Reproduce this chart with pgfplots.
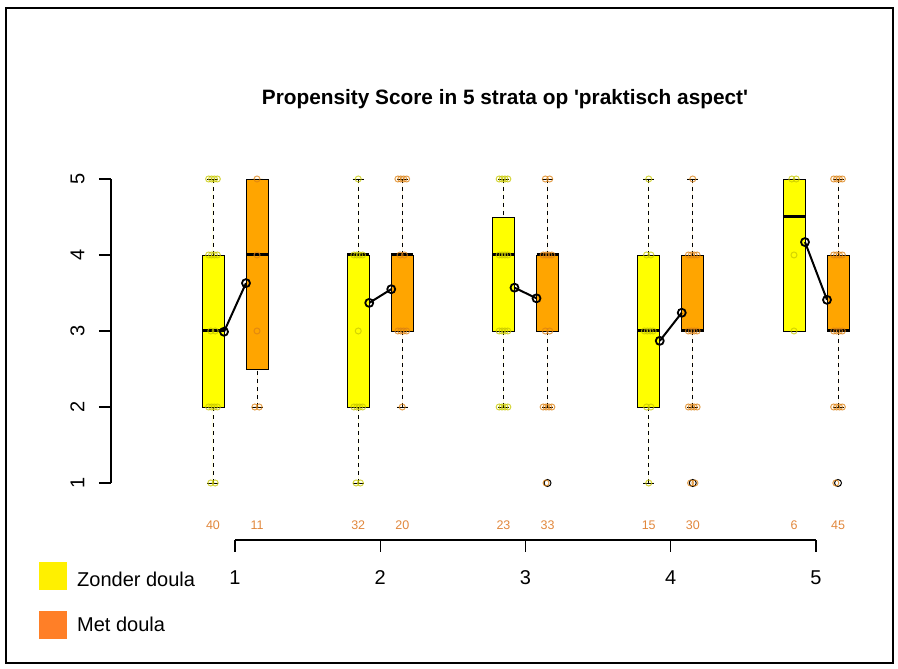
\documentclass[border=0pt]{standalone}
\usepackage{fontspec}
\setmainfont{Liberation Sans}
\usepackage{pgfplots}
\pgfplotsset{compat=1.18}
\usepgfplotslibrary{statistics}
\definecolor{boxyellow}{RGB}{255,255,0}
\definecolor{boxorange}{RGB}{255,165,0}
\definecolor{legyellow}{RGB}{255,240,0}
\definecolor{legorange}{RGB}{255,127,39}
\definecolor{ptyellow}{RGB}{200,200,0}
\definecolor{ptorange}{RGB}{220,130,20}
\definecolor{cnt}{RGB}{225,135,60}
\begin{document}
\begin{tikzpicture}[x=1pt,y=1pt]
\path[use as bounding box] (0,0) rectangle (898,669);
\draw[line width=2pt] (6,661) rectangle (893,6);
\node[font=\bfseries\fontsize{20.8}{24}\selectfont, anchor=base, inner sep=0] at (505,564) {Propensity Score in 5 strata op \textquotesingle praktisch aspect\textquotesingle};
\begin{axis}[at={(111pt,129pt)}, anchor=south west, scale only axis, width=769pt, height=380pt,
 xmin=0.1463, xmax=5.4406, ymin=0.25, ymax=5.25, clip=false,
 axis line style={draw=none}, tick pos=left, tick align=outside, major tick length=12pt,
 tick style={black, line width=1.1pt},
 xtick={1,2,3,4,5}, xticklabels={1,2,3,4,5},
 ytick={1,2,3,4,5}, yticklabels={1,2,3,4,5},
 ticklabel style={font=\fontsize{20}{24}\selectfont},
 xticklabel style={yshift=-15pt},
 yticklabel style={xshift=-11pt, rotate=90, anchor=south},
 boxplot/draw direction=y,
 boxplot/box extend=0.1515, boxplot/whisker extend=0.0757,
 boxplot/every median/.style={line width=3pt},
 boxplot/draw/lower whisker/.code={
   \draw[dash pattern=on 4pt off 4pt] (boxplot box cs:\pgfplotsboxplotvalue{lower whisker},0.5) -- (boxplot box cs:\pgfplotsboxplotvalue{lower quartile},0.5);
   \draw[solid] (boxplot whisker cs:\pgfplotsboxplotvalue{lower whisker},0) -- (boxplot whisker cs:\pgfplotsboxplotvalue{lower whisker},1);
 },
 boxplot/draw/upper whisker/.code={
   \draw[dash pattern=on 4pt off 4pt] (boxplot box cs:\pgfplotsboxplotvalue{upper whisker},0.5) -- (boxplot box cs:\pgfplotsboxplotvalue{upper quartile},0.5);
   \draw[solid] (boxplot whisker cs:\pgfplotsboxplotvalue{upper whisker},0) -- (boxplot whisker cs:\pgfplotsboxplotvalue{upper whisker},1);
 },
]
% boxes: Zonder doula
\addplot[boxplot prepared={draw position=0.8485, lower whisker=1, lower quartile=2, median=3, upper quartile=4, upper whisker=5}, draw=black, fill=boxyellow, line width=0.9pt] coordinates {};
\addplot[boxplot prepared={draw position=1.8485, lower whisker=1, lower quartile=2, median=4, upper quartile=4, upper whisker=5}, draw=black, fill=boxyellow, line width=0.9pt] coordinates {};
\addplot[boxplot prepared={draw position=2.8485, lower whisker=2, lower quartile=3, median=4, upper quartile=4.5, upper whisker=5}, draw=black, fill=boxyellow, line width=0.9pt] coordinates {};
\addplot[boxplot prepared={draw position=3.8485, lower whisker=1, lower quartile=2, median=3, upper quartile=4, upper whisker=5}, draw=black, fill=boxyellow, line width=0.9pt] coordinates {};
\addplot[boxplot prepared={draw position=4.8485, lower whisker=3, lower quartile=3, median=4.5, upper quartile=5, upper whisker=5}, draw=black, fill=boxyellow, line width=0.9pt] coordinates {};
% boxes: Met doula
\addplot[boxplot prepared={draw position=1.1515, lower whisker=2, lower quartile=2.5, median=4, upper quartile=5, upper whisker=5}, draw=black, fill=boxorange, line width=0.9pt] coordinates {};
\addplot[boxplot prepared={draw position=2.1515, lower whisker=2, lower quartile=3, median=4, upper quartile=4, upper whisker=5}, draw=black, fill=boxorange, line width=0.9pt] coordinates {};
\addplot[boxplot prepared={draw position=3.1515, lower whisker=2, lower quartile=3, median=4, upper quartile=4, upper whisker=5}, draw=black, fill=boxorange, line width=0.9pt] coordinates {};
\addplot[boxplot prepared={draw position=4.1515, lower whisker=2, lower quartile=3, median=3, upper quartile=4, upper whisker=5}, draw=black, fill=boxorange, line width=0.9pt] coordinates {};
\addplot[boxplot prepared={draw position=5.1515, lower whisker=2, lower quartile=3, median=3, upper quartile=4, upper whisker=5}, draw=black, fill=boxorange, line width=0.9pt] coordinates {};
% outliers
\addplot[only marks, mark=o, mark size=3.5pt, black, line width=1pt] coordinates {(3.1515,1)(4.1515,1)(5.1515,1)};
% jittered points: Zonder doula
\addplot[only marks, mark=o, mark size=3pt, draw=ptyellow, line width=1pt, opacity=0.75] coordinates {
(0.8335,1)(0.8635,1)(0.8185,2)(0.8385,2)(0.8585,2)(0.8785,2)(0.8335,3)(0.8635,3)
(0.8185,4)(0.8385,4)(0.8585,4)(0.8785,4)(0.8185,5)(0.8385,5)(0.8585,5)(0.8785,5)
(1.8335,1)(1.8635,1)(1.8185,2)(1.8385,2)(1.8585,2)(1.8785,2)(1.8485,3)
(1.8185,4)(1.8385,4)(1.8585,4)(1.8785,4)(1.8485,5)
(2.8185,2)(2.8385,2)(2.8585,2)(2.8785,2)(2.8185,3)(2.8385,3)(2.8585,3)(2.8785,3)
(2.8185,4)(2.8385,4)(2.8585,4)(2.8785,4)(2.8185,5)(2.8385,5)(2.8585,5)(2.8785,5)
(3.8485,1)(3.8335,2)(3.8635,2)(3.8185,3)(3.8385,3)(3.8585,3)(3.8785,3)(3.8335,4)(3.8635,4)(3.8485,5)
(4.8485,3)(4.8485,4)(4.8335,5)(4.8635,5)};
% jittered points: Met doula
\addplot[only marks, mark=o, mark size=3pt, draw=ptorange, line width=1pt, opacity=0.75] coordinates {
(1.1365,2)(1.1665,2)(1.1515,3)(1.1515,4)(1.1515,5)
(2.1515,2)(2.1215,3)(2.1415,3)(2.1615,3)(2.1815,3)(2.1365,4)(2.1665,4)(2.1215,5)(2.1415,5)(2.1615,5)(2.1815,5)
(3.1415,1)(3.1215,2)(3.1415,2)(3.1615,2)(3.1815,2)(3.1365,3)(3.1665,3)(3.1215,4)(3.1415,4)(3.1615,4)(3.1815,4)(3.1365,5)(3.1665,5)
(4.1365,1)(4.1665,1)(4.1215,2)(4.1415,2)(4.1615,2)(4.1815,2)(4.1215,3)(4.1415,3)(4.1615,3)(4.1815,3)(4.1215,4)(4.1415,4)(4.1615,4)(4.1815,4)(4.1515,5)
(5.1365,1)(5.1215,2)(5.1415,2)(5.1615,2)(5.1815,2)(5.1215,3)(5.1415,3)(5.1615,3)(5.1815,3)(5.1215,4)(5.1415,4)(5.1615,4)(5.1815,4)(5.1215,5)(5.1415,5)(5.1615,5)(5.1815,5)};
% means
\pgfplotsset{meanline/.style={black, line width=2pt, mark=o, mark size=4pt, mark options={line width=1.8pt}}}
\addplot[meanline] coordinates {(0.9243,2.99)(1.0757,3.63)};
\addplot[meanline] coordinates {(1.9243,3.37)(2.0757,3.55)};
\addplot[meanline] coordinates {(2.9243,3.57)(3.0757,3.43)};
\addplot[meanline] coordinates {(3.9243,2.87)(4.0757,3.24)};
\addplot[meanline] coordinates {(4.9243,4.17)(5.0757,3.41)};
% axis lines (R style)
\draw[line width=1.1pt] (axis cs:0.1463,1) -- (axis cs:0.1463,5);
\draw[line width=1.1pt] (axis cs:1,0.25) -- (axis cs:5,0.25);
% counts
\begin{scope}[every node/.style={text=cnt, font=\fontsize{12.5}{14}\selectfont}]
\node at (axis cs:0.8485,0.447) {40}; \node at (axis cs:1.1515,0.447) {11};
\node at (axis cs:1.8485,0.447) {32}; \node at (axis cs:2.1515,0.447) {20};
\node at (axis cs:2.8485,0.447) {23}; \node at (axis cs:3.1515,0.447) {33};
\node at (axis cs:3.8485,0.447) {15}; \node at (axis cs:4.1515,0.447) {30};
\node at (axis cs:4.8485,0.447) {6};  \node at (axis cs:5.1515,0.447) {45};
\end{scope}
\end{axis}
\fill[legyellow] (39,79) rectangle (67,107);
\fill[legorange] (39,30) rectangle (67,58);
\node[anchor=base west, font=\fontsize{20}{24}\selectfont, inner sep=0] at (77,82) {Zonder doula};
\node[anchor=base west, font=\fontsize{20}{24}\selectfont, inner sep=0] at (77,37) {Met doula};
\end{tikzpicture}
\end{document}
